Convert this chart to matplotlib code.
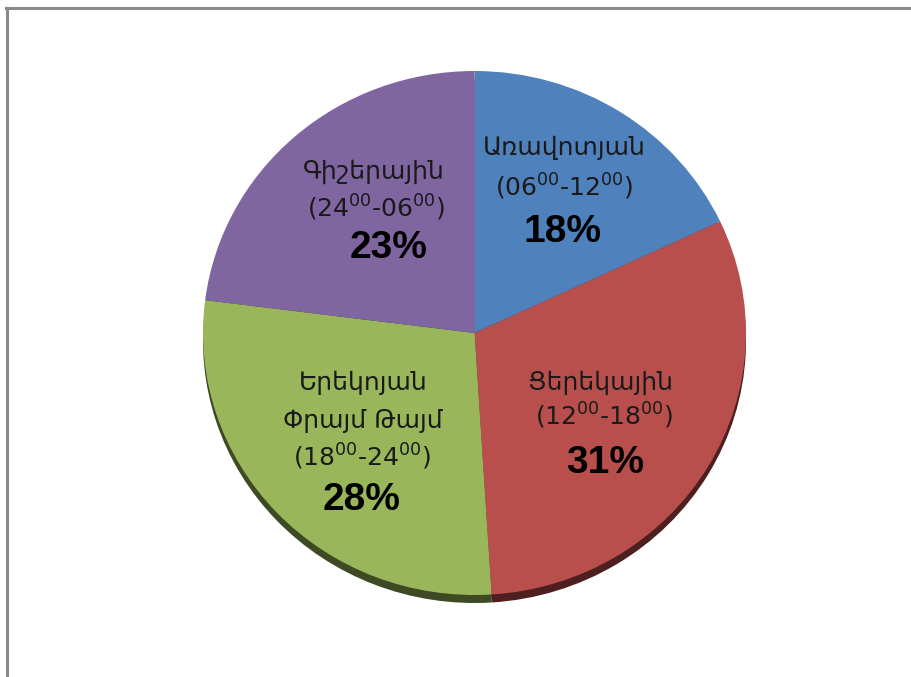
import matplotlib
matplotlib.use("Agg")
import matplotlib.pyplot as plt
from matplotlib.lines import Line2D

# ---- data ----
categories = ["Առավոտյան", "Ցերեկային", "Երեկոյան\nՓրայմ Թայմ", "Գիշերային"]
time_ranges = ["(06$^{00}$-12$^{00}$)", "(12$^{00}$-18$^{00}$)",
               "(18$^{00}$-24$^{00}$)", "(24$^{00}$-06$^{00}$)"]
values = [18, 31, 28, 23]
pct_labels = ["18%", "31%", "28%", "23%"]

face_colors = ["#4F81BD", "#B94F4C", "#99B75A", "#8066A0"]
side_colors = ["#2B4668", "#4E1F1F", "#3E4A24", "#3F3252"]

W, H = 911, 677
fig = plt.figure(figsize=(W / 100, H / 100), dpi=100)
fig.patch.set_facecolor("white")
plt.rcParams["mathtext.fontset"] = "dejavusans"
plt.rcParams["mathtext.default"] = "regular"

# pie geometry in pixels
left, right, top, bottom = 203, 746, 71, 595
ry = (bottom - top) / 2
ymin = -1.1
ax_bottom_px = bottom + (-1 - ymin) * ry
ax = fig.add_axes([left / W, 1 - ax_bottom_px / H, (right - left) / W,
                   (ax_bottom_px - top) / H])

shadow_off = 8 / ry
ax.pie(values, colors=side_colors, startangle=90, counterclock=False,
       radius=1.0, center=(0, -shadow_off),
       wedgeprops=dict(linewidth=0))
ax.pie(values, colors=face_colors, startangle=90, counterclock=False,
       radius=1.0, center=(0, 0),
       wedgeprops=dict(linewidth=0))
ax.set_aspect("auto")
ax.set_xlim(-1, 1)
ax.set_ylim(ymin, 1)
ax.axis("off")


def px(x, y):
    return x / W, 1 - y / H


lab_font = dict(family=["DejaVu Sans"], fontsize=18, color="#1a1a1a",
                ha="center", va="center")
pct_font = dict(family=["Liberation Sans", "DejaVu Sans"], fontsize=28,
                fontweight="bold", color="black", ha="center", va="center")

# label placements (pixel centres)
name_pos = [[(564, 148)], [(600, 383)], [(363, 383), (363, 421)], [(374, 172)]]
range_pos = [(564, 187), (604, 416), (362, 457), (376, 208)]
pct_pos = [(563, 232), (605, 463), (362, 500), (389, 248)]

for i in range(len(values)):
    lines = categories[i].split("\n")
    for line, (x, y) in zip(lines, name_pos[i]):
        fig.text(*px(x, y), line, **lab_font)
    fig.text(*px(*range_pos[i]), time_ranges[i], **lab_font)
    fig.text(*px(*pct_pos[i]), pct_labels[i], **pct_font)

# partial frame (top and left)
fig.add_artist(Line2D([6 / W, 1], [1 - 8 / H, 1 - 8 / H], color="#8a8a8a",
                      lw=2.2, transform=fig.transFigure))
fig.add_artist(Line2D([7 / W, 7 / W], [0, 1 - 8 / H], color="#8a8a8a",
                      lw=2.2, transform=fig.transFigure))

fig.savefig("out.png", dpi=100, facecolor="white")
